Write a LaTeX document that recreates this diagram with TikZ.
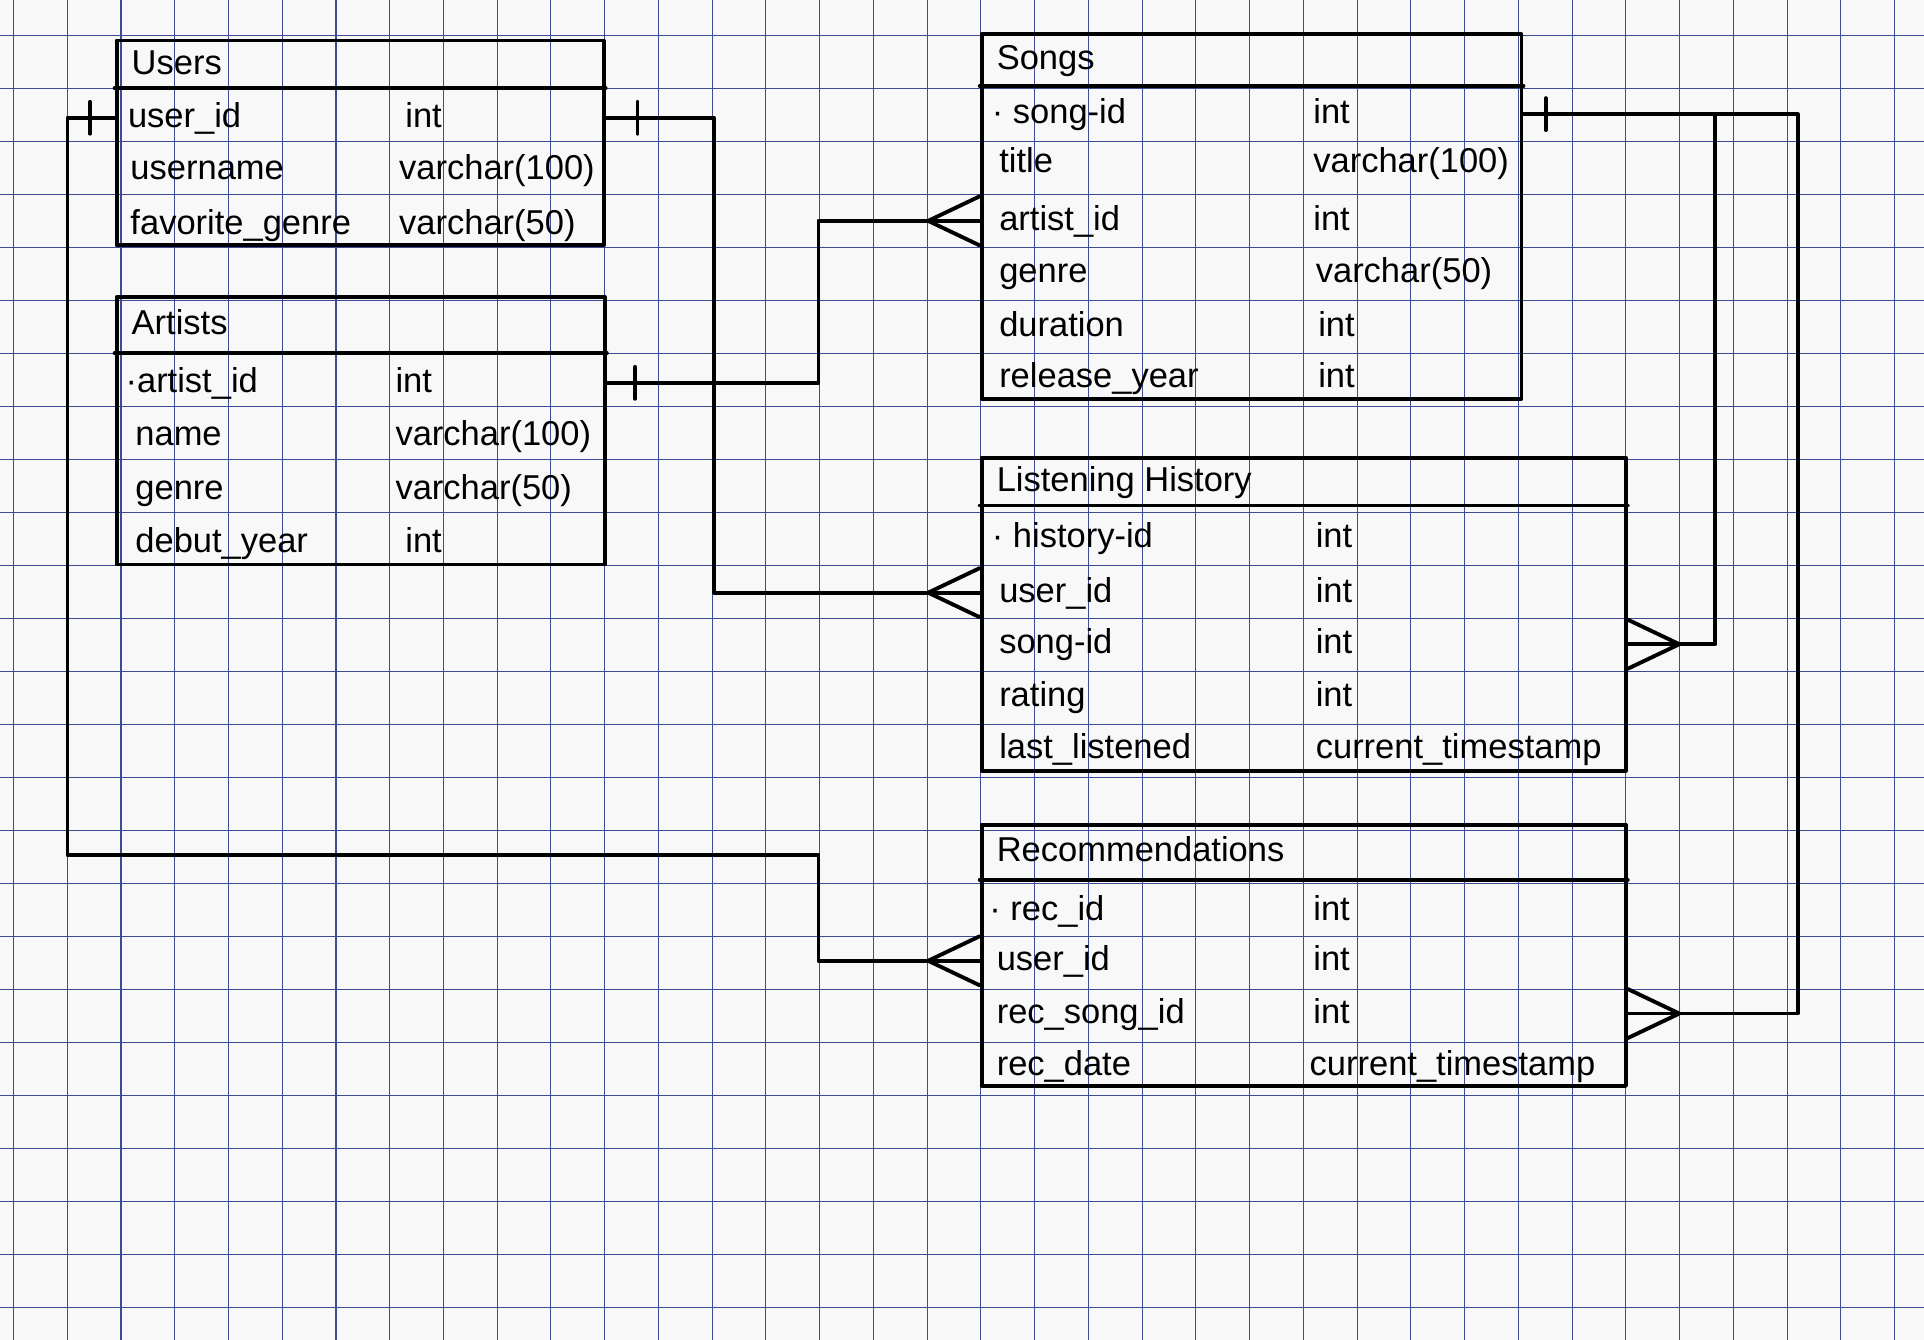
\documentclass[tikz,border=0pt]{standalone}
\usepackage{fontspec}
\setmainfont{Liberation Sans}
\usetikzlibrary{fit}
\definecolor{gridblue}{RGB}{62,74,150}
\definecolor{paper}{RGB}{248,248,248}
\tikzset{
  ink/.style={line width=1.8pt, line cap=round, line join=round},
  tblbox/.style={draw, ink, inner sep=0pt},
  fld/.style={anchor=west, inner sep=0pt, text height=2ex, text depth=.3ex, font=\fontsize{16}{19}\selectfont},
  gridline/.style={gridblue, line width=0.5pt},
}
% table frame with header line and title
\newcommand{\entity}[7]{\node[tblbox, fit={(#2,#3) (#4,#5)}] (#1) {};
  \draw[ink] (#1.west |- 0,#6) -- (#1.east |- 0,#6);
  \node[fld] (#1-title) at (#2+12,{(#3+#6)/2}) {#7};}
% one row: name and type
\newcommand{\field}[6]{\node[fld] (#1) at (#2,#3) {#4};
  \node[fld] (#1-type) at (#5,#3) {#6};}
\newcommand{\onebar}[2]{\draw[ink] (#1) ++(#2,-13) -- ++(0,26);}
\newcommand{\crowleft}[1]{\draw[ink] (#1) ++(-42,0) -- ++(42,20) ++(-42,-20) -- ++(42,-20);}
\newcommand{\crowright}[1]{\draw[ink] (#1) ++(42,0) -- ++(-42,20) ++(42,-20) -- ++(-42,-20);}

\begin{document}
\begin{tikzpicture}[x=0.02cm, y=-0.02cm]
        \fill[paper] (0,0) rectangle (1568,1092);
        \useasboundingbox (0,0) rectangle (1568,1092);
        % paper grid
        \foreach \i in {0,...,35} \draw[gridline] ({11+43.8*\i},0) -- ({11+43.8*\i},1092);
        \foreach \j in {0,...,24} \draw[gridline] (0,{29+43.2*\j}) -- (1568,{29+43.2*\j});

        % users
        \entity{users}{95}{33}{492}{200}{72}{Users}
        \field{users-uid}{104}{96}{user\_id}{330}{int}
        \field{users-name}{106}{138}{username}{325}{varchar(100)}
        \field{users-genre}{106}{183}{favorite\_genre}{325}{varchar(50)}

        % artists
        \entity{artists}{95}{242}{493}{460}{288}{Artists}
        \field{artists-aid}{102}{312}{\textperiodcentered artist\_id}{322}{int}
        \field{artists-name}{110}{355}{name}{322}{varchar(100)}
        \field{artists-genre}{110}{399}{genre}{322}{varchar(50)}
        \field{artists-year}{110}{442}{debut\_year}{330}{int}

        % songs
        \entity{songs}{800}{28}{1240}{325}{70}{Songs}
        \field{songs-sid}{808}{93}{\textperiodcentered\ song-id}{1070}{int}
        \field{songs-title}{814}{133}{title}{1070}{varchar(100)}
        \field{songs-aid}{814}{180}{artist\_id}{1070}{int}
        \field{songs-genre}{814}{222}{genre}{1072}{varchar(50)}
        \field{songs-dur}{814}{266}{duration}{1074}{int}
        \field{songs-year}{814}{308}{release\_year}{1074}{int}

        % listening history
        \entity{lh}{800}{373}{1325}{628}{412}{Listening History}
        \field{lh-hid}{808}{438}{\textperiodcentered\ history-id}{1072}{int}
        \field{lh-uid}{814}{483}{user\_id}{1072}{int}
        \field{lh-sid}{814}{525}{song-id}{1072}{int}
        \field{lh-rating}{814}{568}{rating}{1072}{int}
        \field{lh-last}{814}{610}{last\_listened}{1072}{current\_timestamp}

        % recommendations
        \entity{rec}{800}{672}{1325}{885}{717}{Recommendations}
        \field{rec-rid}{806}{742}{\textperiodcentered\ rec\_id}{1070}{int}
        \field{rec-uid}{812}{783}{user\_id}{1070}{int}
        \field{rec-rsid}{812}{826}{rec\_song\_id}{1070}{int}
        \field{rec-date}{812}{869}{rec\_date}{1067}{current\_timestamp}

        % lanes
        \coordinate (laneA) at (55,697);
        \coordinate (laneB) at (667,0);
        \coordinate (laneC) at (582,0);
        \coordinate (laneE) at (1465,0);
        \coordinate (laneF) at (1398,0);

        % users -> recommendations
        \draw[ink] (users.west |- users-uid) -- (laneA |- users-uid) -- (laneA) -- (laneB |- laneA) -- (laneB |- rec-uid) -- (rec.west |- rec-uid);
        \onebar{users.west |- users-uid}{-20}
        \crowleft{rec.west |- rec-uid}
        % users -> listening history
        \draw[ink] (users.east |- users-uid) -- (laneC |- users-uid) -- (laneC |- lh-uid) -- (lh.west |- lh-uid);
        \onebar{users.east |- users-uid}{26}
        \crowleft{lh.west |- lh-uid}
        % artists -> songs
        \draw[ink] (artists.east |- artists-aid) -- (laneB |- artists-aid) -- (laneB |- songs-aid) -- (songs.west |- songs-aid);
        \onebar{artists.east |- artists-aid}{23}
        \crowleft{songs.west |- songs-aid}
        % songs -> recommendations, listening history
        \draw[ink] (songs.east |- songs-sid) -- (laneE |- songs-sid) -- (laneE |- rec-rsid) -- (rec.east |- rec-rsid);
        \draw[ink] (laneF |- songs-sid) -- (laneF |- lh-sid) -- (lh.east |- lh-sid);
        \onebar{songs.east |- songs-sid}{18}
        \crowright{rec.east |- rec-rsid}
        \crowright{lh.east |- lh-sid}
\end{tikzpicture}
\end{document}
